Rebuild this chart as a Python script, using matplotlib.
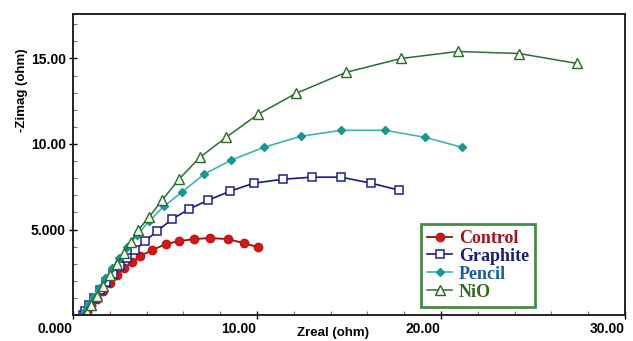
import numpy as np
import matplotlib
matplotlib.use("Agg")
import matplotlib.pyplot as plt
import matplotlib.transforms as mtransforms
from matplotlib.ticker import MultipleLocator, FuncFormatter

# Nyquist data (ohm)
control_x = [0.65, 0.76, 0.98, 1.30, 1.63, 2.01, 2.39, 2.77, 3.21, 3.64, 4.29, 5.05, 5.76, 6.58, 7.45, 8.42, 9.29, 10.05]
control_y = [0.00, 0.18, 0.53, 0.93, 1.40, 1.87, 2.34, 2.74, 3.09, 3.44, 3.79, 4.15, 4.32, 4.44, 4.50, 4.44, 4.20, 3.97]

graphite_x = [0.54, 0.65, 0.87, 1.14, 1.47, 1.79, 2.17, 2.55, 2.93, 3.37, 3.91, 4.57, 5.38, 6.30, 7.34, 8.53, 9.84, 11.41, 12.99, 14.57, 16.20, 17.72]
graphite_y = [0.00, 0.23, 0.58, 0.99, 1.46, 1.93, 2.39, 2.86, 3.33, 3.79, 4.32, 4.90, 5.60, 6.19, 6.71, 7.24, 7.71, 7.94, 8.06, 8.06, 7.71, 7.30]

pencil_x = [0.60, 0.65, 0.82, 1.09, 1.41, 1.74, 2.12, 2.50, 2.93, 3.48, 4.13, 4.95, 5.92, 7.12, 8.59, 10.38, 12.39, 14.57, 16.96, 19.13, 21.14]
pencil_y = [0.00, 0.23, 0.58, 1.05, 1.58, 2.16, 2.74, 3.33, 3.97, 4.67, 5.49, 6.36, 7.18, 8.23, 9.05, 9.81, 10.45, 10.80, 10.80, 10.39, 9.81]

nio_x = [0.65, 0.76, 0.98, 1.30, 1.63, 2.01, 2.39, 2.77, 3.15, 3.53, 4.13, 4.84, 5.76, 6.90, 8.32, 10.05, 12.12, 14.84, 17.83, 20.92, 24.24, 27.39]
nio_y = [0.00, 0.18, 0.58, 1.11, 1.69, 2.34, 2.98, 3.62, 4.26, 4.96, 5.72, 6.71, 7.94, 9.22, 10.39, 11.73, 12.96, 14.19, 15.00, 15.41, 15.29, 14.71]

labels = ["Control", "Graphite", "Pencil", "NiO"]
label_colors = ["#A3141E", "#1C1C7C", "#1A5E9E", "#2E6B1E"]

plt.rcParams['font.family'] = ['Liberation Sans', 'DejaVu Sans']

fig = plt.figure(figsize=(6.33, 3.41), dpi=100)
ax = fig.add_axes([0.1153, 0.0762, 0.872, 0.8827])

ax.plot(control_x, control_y, color="#8E1010", lw=1.3, marker="o", ms=6,
        mfc="#D01818", mec="#C01515", label=labels[0])
ax.plot(graphite_x, graphite_y, color="#1A1A80", lw=1.2, marker="s", ms=5.5,
        mfc="white", mec="#1F1F90", mew=1.1, label=labels[1])
ax.plot(pencil_x, pencil_y, color="#3FB5B0", lw=1.2, marker="D", ms=4.5,
        mfc="#1A9690", mec="#1A9690", label=labels[2])
ax.plot(nio_x, nio_y, color="#2F6B3A", lw=1.1, marker="^", ms=7.5,
        mfc="#F4FBF0", mec="#2A6A2A", mew=1.0, label=labels[3])

ax.set_xlim(0, 30)
ax.set_ylim(0, 17.6)

ax.xaxis.set_major_locator(MultipleLocator(10))
ax.xaxis.set_minor_locator(MultipleLocator(2))
ax.set_yticks([5, 10, 15])
ax.yaxis.set_minor_locator(MultipleLocator(1))


def fmt(v, pos):
    return "{:.3f}".format(v) if abs(v) < 10 else "{:.2f}".format(v)


ax.xaxis.set_major_formatter(FuncFormatter(fmt))
ax.yaxis.set_major_formatter(FuncFormatter(fmt))

ax.tick_params(which="major", direction="inout", length=6, width=1.0, labelsize=10, pad=2)
ax.tick_params(which="minor", direction="in", length=3, width=0.8, color="#777777")
for lab in ax.get_xticklabels() + ax.get_yticklabels():
    lab.set_fontweight("bold")

# x tick labels sit to the left of their ticks in the original
shift = mtransforms.ScaledTranslation(-18 / 100, 0, fig.dpi_scale_trans)
for lab in ax.get_xticklabels():
    lab.set_transform(lab.get_transform() + shift)

for sp in ax.spines.values():
    sp.set_linewidth(1.4)
    sp.set_color("#222222")

ax.set_xlabel("Zreal (ohm)", fontsize=9.5, fontweight="bold")
ax.set_ylabel("-Zimag (ohm)", fontsize=9.5, fontweight="bold")
ax.xaxis.set_label_coords(0.471, -0.06)
ax.xaxis.label.set_va("center")
ax.yaxis.set_label_coords(-0.092, 0.747)
ax.yaxis.label.set_va("center")

leg = ax.legend(loc="lower left", bbox_to_anchor=(0.630, 0.027), frameon=True,
                fancybox=False, handlelength=1.4, handletextpad=0.35,
                labelspacing=0.05, borderpad=0.35, borderaxespad=0,
                prop={"family": "Liberation Serif", "weight": "bold", "size": 13},
                labelcolor=label_colors)
leg.get_frame().set_edgecolor("#1E6B1E")
leg.get_frame().set_linewidth(2.0)

fig.savefig("out.png", dpi=100)
